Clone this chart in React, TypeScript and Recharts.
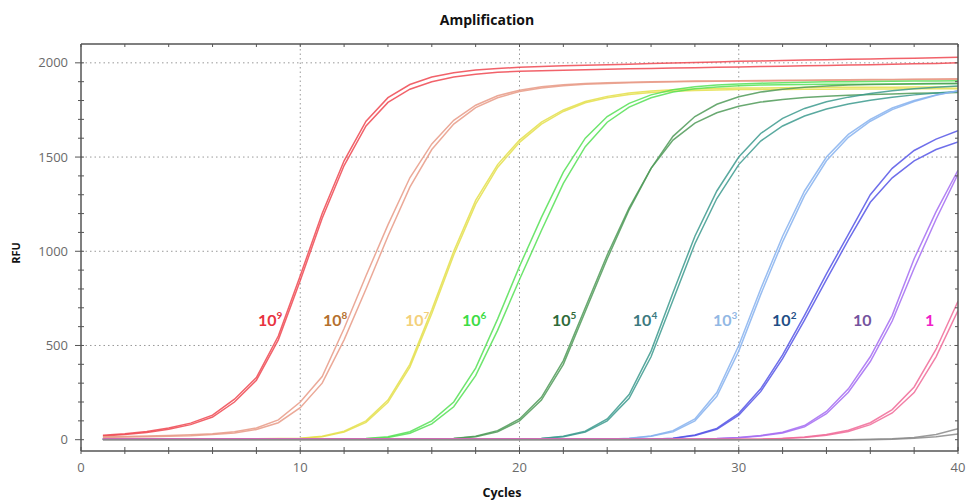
import React from "react";
import { LineChart, Line, XAxis, YAxis, ReferenceLine, ReferenceDot } from "recharts";

const cycles = [1,2,3,4,5,6,7,8,9,10,11,12,13,14,15,16,17,18,19,20,21,22,23,24,25,26,27,28,29,30,31,32,33,34,35,36,37,38,39,40];

const r9a = [24,32,44,62,88,130,215,330,550,870,1200,1480,1690,1815,1885,1925,1948,1962,1970,1976,1980,1984,1987,1990,1993,1996,1999,2002,2005,2008,2010,2013,2015,2017,2019,2021,2023,2025,2027,2030];
const r9b = [20,27,38,55,80,120,200,315,530,845,1175,1455,1665,1790,1860,1900,1925,1940,1950,1955,1958,1961,1964,1966,1968,1970,1972,1974,1976,1978,1980,1982,1984,1986,1988,1990,1992,1995,1997,2000];
const r8a = [15,17,19,22,26,32,42,62,105,200,335,590,870,1140,1390,1570,1695,1775,1825,1855,1873,1884,1890,1894,1897,1899,1901,1903,1904,1905,1906,1907,1908,1909,1910,1911,1912,1913,1914,1915];
const r8b = [12,14,16,18,21,27,36,54,90,170,300,530,800,1080,1340,1540,1675,1762,1815,1848,1867,1879,1886,1891,1894,1897,1899,1901,1902,1903,1904,1905,1906,1907,1908,1909,1910,1911,1912,1913];
const y7a = [5,5,5,5,5,5,5,5,6,8,18,45,100,210,400,690,1000,1270,1460,1590,1685,1750,1795,1822,1840,1850,1857,1861,1864,1866,1867,1868,1869,1870,1870,1871,1871,1872,1872,1873];
const y7b = [4,4,4,4,4,4,4,4,5,7,15,40,92,198,385,670,980,1250,1445,1578,1675,1742,1788,1815,1832,1842,1849,1853,1856,1858,1859,1859,1860,1860,1861,1861,1861,1862,1862,1862];
const g6a = [3,3,3,3,3,3,3,3,3,3,3,3,6,16,42,100,200,380,640,920,1180,1420,1600,1715,1785,1830,1857,1873,1882,1888,1892,1895,1897,1899,1900,1901,1902,1903,1904,1905];
const g6b = [2,2,2,2,2,2,2,2,2,2,2,2,5,12,34,84,175,340,580,850,1110,1360,1555,1685,1765,1815,1845,1862,1872,1878,1882,1884,1885,1886,1887,1887,1888,1888,1889,1890];
const d5a = [3,3,3,3,3,3,3,3,3,3,3,3,3,3,3,3,7,18,48,110,225,420,700,980,1230,1440,1590,1680,1735,1770,1792,1806,1816,1823,1828,1832,1835,1838,1840,1842];
const d5b = [2,2,2,2,2,2,2,2,2,2,2,2,2,2,2,2,6,16,42,100,210,400,680,960,1220,1440,1610,1715,1780,1820,1845,1860,1870,1877,1882,1885,1887,1889,1890,1891];
const t4a = [3,3,3,3,3,3,3,3,3,3,3,3,3,3,3,3,3,3,3,3,7,18,45,110,240,470,780,1080,1320,1500,1625,1705,1758,1793,1818,1837,1852,1863,1871,1877];
const t4b = [2,2,2,2,2,2,2,2,2,2,2,2,2,2,2,2,2,2,2,2,6,16,40,100,220,440,740,1040,1280,1460,1585,1665,1718,1755,1782,1802,1818,1830,1840,1848];
const lb3a = [3,3,3,3,3,3,3,3,3,3,3,3,3,3,3,3,3,3,3,3,3,3,3,3,8,20,48,110,250,500,800,1080,1320,1500,1620,1700,1760,1800,1830,1850];
const lb3b = [2,2,2,2,2,2,2,2,2,2,2,2,2,2,2,2,2,2,2,2,2,2,2,2,7,18,42,100,230,470,770,1050,1295,1480,1605,1690,1752,1795,1828,1852];
const b2a = [3,3,3,3,3,3,3,3,3,3,3,3,3,3,3,3,3,3,3,3,3,3,3,3,3,3,8,25,60,140,270,450,660,880,1090,1300,1440,1535,1595,1640];
const b2b = [2,2,2,2,2,2,2,2,2,2,2,2,2,2,2,2,2,2,2,2,2,2,2,2,2,2,7,22,55,130,255,430,635,850,1060,1260,1390,1480,1540,1580];
const v10a = [3,3,3,3,3,3,3,3,3,3,3,3,3,3,3,3,3,3,3,3,3,3,3,3,3,3,3,3,6,12,22,40,75,150,270,440,660,960,1210,1430];
const v10b = [2,2,2,2,2,2,2,2,2,2,2,2,2,2,2,2,2,2,2,2,2,2,2,2,2,2,2,2,5,10,20,36,68,138,252,415,630,910,1170,1410];
const p1a = [3,3,3,3,3,3,3,3,3,3,3,3,3,3,3,3,3,3,3,3,3,3,3,3,3,3,3,3,3,3,3,7,14,28,50,90,160,280,480,735];
const p1b = [2,2,2,2,2,2,2,2,2,2,2,2,2,2,2,2,2,2,2,2,2,2,2,2,2,2,2,2,2,2,2,6,12,24,44,80,142,250,440,685];
const n1 = [0,0,0,0,0,0,0,0,0,0,0,0,0,0,0,0,0,0,0,0,0,0,0,0,0,0,0,0,0,0,0,0,0,0,0,2,5,12,28,58];
const n2 = [0,0,0,0,0,0,0,0,0,0,0,0,0,0,0,0,0,0,0,0,0,0,0,0,0,0,0,0,0,0,0,0,0,0,0,0,3,8,16,30];

const seriesList = [
  { key: "r9a", data: r9a, color: "#ee4650" },
  { key: "r9b", data: r9b, color: "#ee4650" },
  { key: "r8a", data: r8a, color: "#e89a86" },
  { key: "r8b", data: r8b, color: "#e89a86" },
  { key: "y7a", data: y7a, color: "#e4df4a" },
  { key: "y7b", data: y7b, color: "#e4df4a" },
  { key: "g6a", data: g6a, color: "#55e055" },
  { key: "g6b", data: g6b, color: "#55e055" },
  { key: "d5a", data: d5a, color: "#4f9a58" },
  { key: "d5b", data: d5b, color: "#4f9a58" },
  { key: "t4a", data: t4a, color: "#3c9a8e" },
  { key: "t4b", data: t4b, color: "#3c9a8e" },
  { key: "lb3a", data: lb3a, color: "#86b2ee" },
  { key: "lb3b", data: lb3b, color: "#86b2ee" },
  { key: "b2a", data: b2a, color: "#5555e6" },
  { key: "b2b", data: b2b, color: "#5555e6" },
  { key: "v10a", data: v10a, color: "#a46cf2" },
  { key: "v10b", data: v10b, color: "#a46cf2" },
  { key: "p1a", data: p1a, color: "#f06a98" },
  { key: "p1b", data: p1b, color: "#f06a98" },
  { key: "n1", data: n1, color: "#8a8a8a" },
  { key: "n2", data: n2, color: "#8a8a8a" },
];

const labelBase = ["10", "10", "10", "10", "10", "10", "10", "10", "10", "1"];
const labelExp = ["9", "8", "7", "6", "5", "4", "3", "2", "", ""];
const labelCycle = [8.07, 11.04, 14.78, 17.38, 21.48, 25.17, 28.82, 31.52, 35.21, 38.49];
const labelRFU = [603, 603, 603, 603, 603, 603, 603, 603, 603, 603];
const labelColor = ["#e8333f", "#b5702e", "#f3d07a", "#3ddc45", "#2f6b3a", "#3d7a7f", "#92b8e4", "#1f4f86", "#75549e", "#f01fc8"];

const xTicks = [0,2,4,6,8,10,12,14,16,18,20,22,24,26,28,30,32,34,36,38,40];
const xLabelTicks = [0, 10, 20, 30, 40];
const yTicks = [0,100,200,300,400,500,600,700,800,900,1000,1100,1200,1300,1400,1500,1600,1700,1800,1900,2000];
const yLabelTicks = [0, 500, 1000, 1500, 2000];
const gridX = [10, 20, 30];
const gridY = [500, 1000, 1500, 2000];

const rows = cycles.map((c, i) => {
  const row: any = { cycle: c };
  seriesList.forEach((s) => { row[s.key] = s.data[i]; });
  return row;
});

const FONT = "'Open Sans', 'DejaVu Sans', sans-serif";
const AXIS = "#555";

const YTickLeft = (props: any) => {
  const { x, y, payload } = props;
  const major = yLabelTicks.includes(payload.value);
  return (
    <g>
      <line x1={major ? x - 6 : x - 3} x2={x + 3} y1={y} y2={y} stroke={AXIS} strokeWidth={1} />
      {major && (
        <text x={x - 13} y={y} dy={4.5} textAnchor="end" fill="#6a6a6a" fontSize={13} fontFamily={FONT}>
          {payload.value}
        </text>
      )}
    </g>
  );
};

const YTickRight = (props: any) => {
  const { x, y } = props;
  return <line x1={x - 3} x2={x} y1={y} y2={y} stroke={AXIS} strokeWidth={1} />;
};

const XTickBottom = (props: any) => {
  const { x, y, payload } = props;
  const major = xLabelTicks.includes(payload.value);
  return (
    <g>
      <line x1={x} x2={x} y1={y - 4} y2={y + 3} stroke={AXIS} strokeWidth={1} />
      {major && (
        <text x={x} y={y} dy={21} textAnchor="middle" fill="#6a6a6a" fontSize={13} fontFamily={FONT}>
          {payload.value}
        </text>
      )}
    </g>
  );
};

const XTickTop = (props: any) => {
  const { x, y } = props;
  return <line x1={x} x2={x} y1={y} y2={y + 3} stroke={AXIS} strokeWidth={1} />;
};

const makeLabelShape = (i: number) => (p: any) => (
  <text x={p.cx} y={p.cy} fill={labelColor[i]} fontSize={16} fontWeight={700} fontFamily="Lato, 'Open Sans', sans-serif">
    {labelBase[i]}
    {labelExp[i] !== "" && (
      <tspan fontSize={10} dy={-7}>{labelExp[i]}</tspan>
    )}
  </text>
);

export default function App() {
  return (
    <div style={{ position: "absolute", left: 0, top: 0, width: 969, height: 502, background: "#fff" }}>
      <div style={{ position: "absolute", left: 0, width: 974, top: 10, textAlign: "center", fontFamily: FONT, fontWeight: 700, fontSize: 14, color: "#111" }}>
        Amplification
      </div>
      <div style={{ position: "absolute", left: 0, width: 1004, top: 484, textAlign: "center", fontFamily: FONT, fontWeight: 700, fontSize: 12.5, color: "#111" }}>
        Cycles
      </div>
      <div style={{ position: "absolute", left: 15, top: 253, transform: "translate(-50%, -50%) rotate(-90deg)", fontFamily: FONT, fontWeight: 700, fontSize: 11, color: "#111" }}>
        RFU
      </div>
      <div style={{ position: "absolute", left: 0, top: 0 }}>
        <LineChart width={969} height={502} data={rows} margin={{ top: 43, right: 10, bottom: 1, left: 21 }}>
          <XAxis xAxisId="b" dataKey="cycle" type="number" domain={[0, 40]} ticks={xTicks} interval={0}
            tick={<XTickBottom />} tickLine={false} tickSize={0} tickMargin={0} height={50}
            axisLine={{ stroke: AXIS, strokeWidth: 1.5 }} allowDataOverflow />
          <XAxis xAxisId="t" orientation="top" dataKey="cycle" type="number" domain={[0, 40]} ticks={xTicks} interval={0}
            tick={<XTickTop />} tickLine={false} tickSize={0} tickMargin={0} height={1}
            axisLine={{ stroke: AXIS, strokeWidth: 1.5 }} allowDataOverflow />
          <YAxis yAxisId="l" type="number" domain={[-60, 2100]} ticks={yTicks} interval={0}
            tick={<YTickLeft />} tickLine={false} tickSize={0} tickMargin={0} width={60}
            axisLine={{ stroke: AXIS, strokeWidth: 1.5 }} allowDataOverflow />
          <YAxis yAxisId="r" orientation="right" type="number" domain={[-60, 2100]} ticks={yTicks} interval={0}
            tick={<YTickRight />} tickLine={false} tickSize={0} tickMargin={0} width={1}
            axisLine={{ stroke: AXIS, strokeWidth: 1.5 }} allowDataOverflow />
          {gridX.map((v) => (
            <ReferenceLine key={"gx" + v} xAxisId="b" yAxisId="l" x={v} stroke="#999" strokeDasharray="1.5 3" />
          ))}
          {gridY.map((v) => (
            <ReferenceLine key={"gy" + v} xAxisId="b" yAxisId="l" y={v} stroke="#999" strokeDasharray="1.5 3" />
          ))}
          <Line xAxisId="t" yAxisId="r" type="linear" dataKey="n1" stroke="none" strokeWidth={0}
            dot={false} activeDot={false} isAnimationActive={false} />
          {seriesList.map((s) => (
            <Line key={s.key} xAxisId="b" yAxisId="l" type="linear" dataKey={s.key} stroke={s.color}
              strokeWidth={1.5} strokeOpacity={0.85} dot={false} activeDot={false} isAnimationActive={false} />
          ))}
          {labelCycle.map((c, i) => (
            <ReferenceDot key={"lab" + i} xAxisId="b" yAxisId="l" x={c} y={labelRFU[i]} r={0}
              shape={makeLabelShape(i)} />
          ))}
        </LineChart>
      </div>
    </div>
  );
}
